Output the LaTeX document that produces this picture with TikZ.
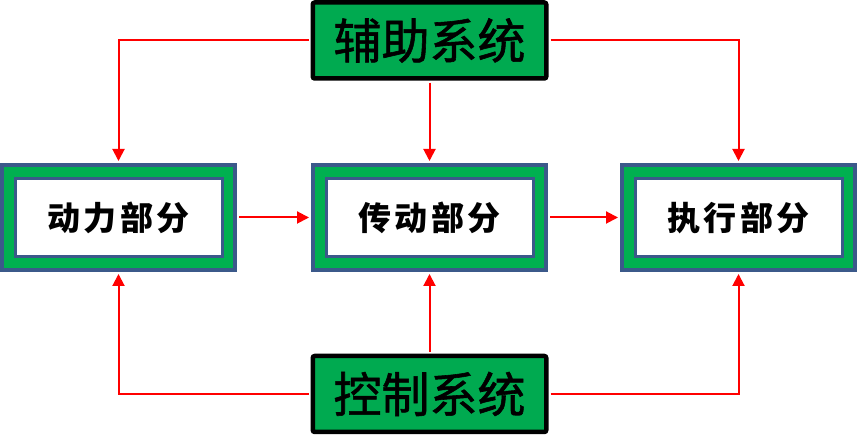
\documentclass[tikz,border=0pt]{standalone}
\usepackage{fontspec}
\usepackage{xcolor}
\usepackage{tikz}
\usetikzlibrary{arrows.meta}
\newfontfamily\cjk[FakeBold=1.2]{Noto Sans CJK SC}
\newfontfamily\cjksp[LetterSpace=10]{Noto Sans CJK SC}
\definecolor{boxblue}{RGB}{59,89,138}
\definecolor{boxgreen}{RGB}{0,176,80}
\definecolor{sysgreen}{RGB}{0,170,80}

\begin{document}
\begin{tikzpicture}[x=1pt, y=1pt,
        part/.style={draw=boxblue, line width=4pt, fill=boxgreen, minimum width=233pt, minimum height=105pt, inner sep=0pt},
        partin/.style={draw=boxblue, line width=3pt, fill=white, minimum width=207pt, minimum height=78pt, inner sep=0pt, font=\cjksp\bfseries\fontsize{33pt}{33pt}\selectfont},
        sys/.style={draw=black, line width=4.5pt, fill=sysgreen, rounded corners=2pt, minimum width=233.5pt, minimum height=76pt, inner sep=0pt, font=\cjk\fontsize{48pt}{48pt}\selectfont},
        link/.style={draw=red, line width=2pt, shorten <=2pt, shorten >=2pt, -{Triangle[length=12pt, width=12pt]}}]
        \useasboundingbox (0,0) rectangle (859,435);

        % parts
        \node [part] (power) at (118.5,217.5) {};
        \node [partin] (power-in) at (power) {动力部分};
        \node [part] (trans) at (429.5,217.5) {};
        \node [partin] (trans-in) at (trans) {传动部分};
        \node [part] (exec) at (738.5,217.5) {};
        \node [partin] (exec-in) at (exec) {执行部分};

        % systems
        \node [sys] (aux) at (429.5,394.5) {辅助系统};
        \node [sys] (ctrl) at (429.5,41) {控制系统};

        \draw [link] (aux.west) -| (power.north);
        \draw [link] (aux) -- (trans);
        \draw [link] (aux.east) -| (exec.north);
        \draw [link] (ctrl.west) -| (power.south);
        \draw [link] (ctrl) -- (trans);
        \draw [link] (ctrl.east) -| (exec.south);
        \draw [link] (power) -- (trans);
        \draw [link] (trans) -- (exec);
    \end{tikzpicture}
\end{document}
